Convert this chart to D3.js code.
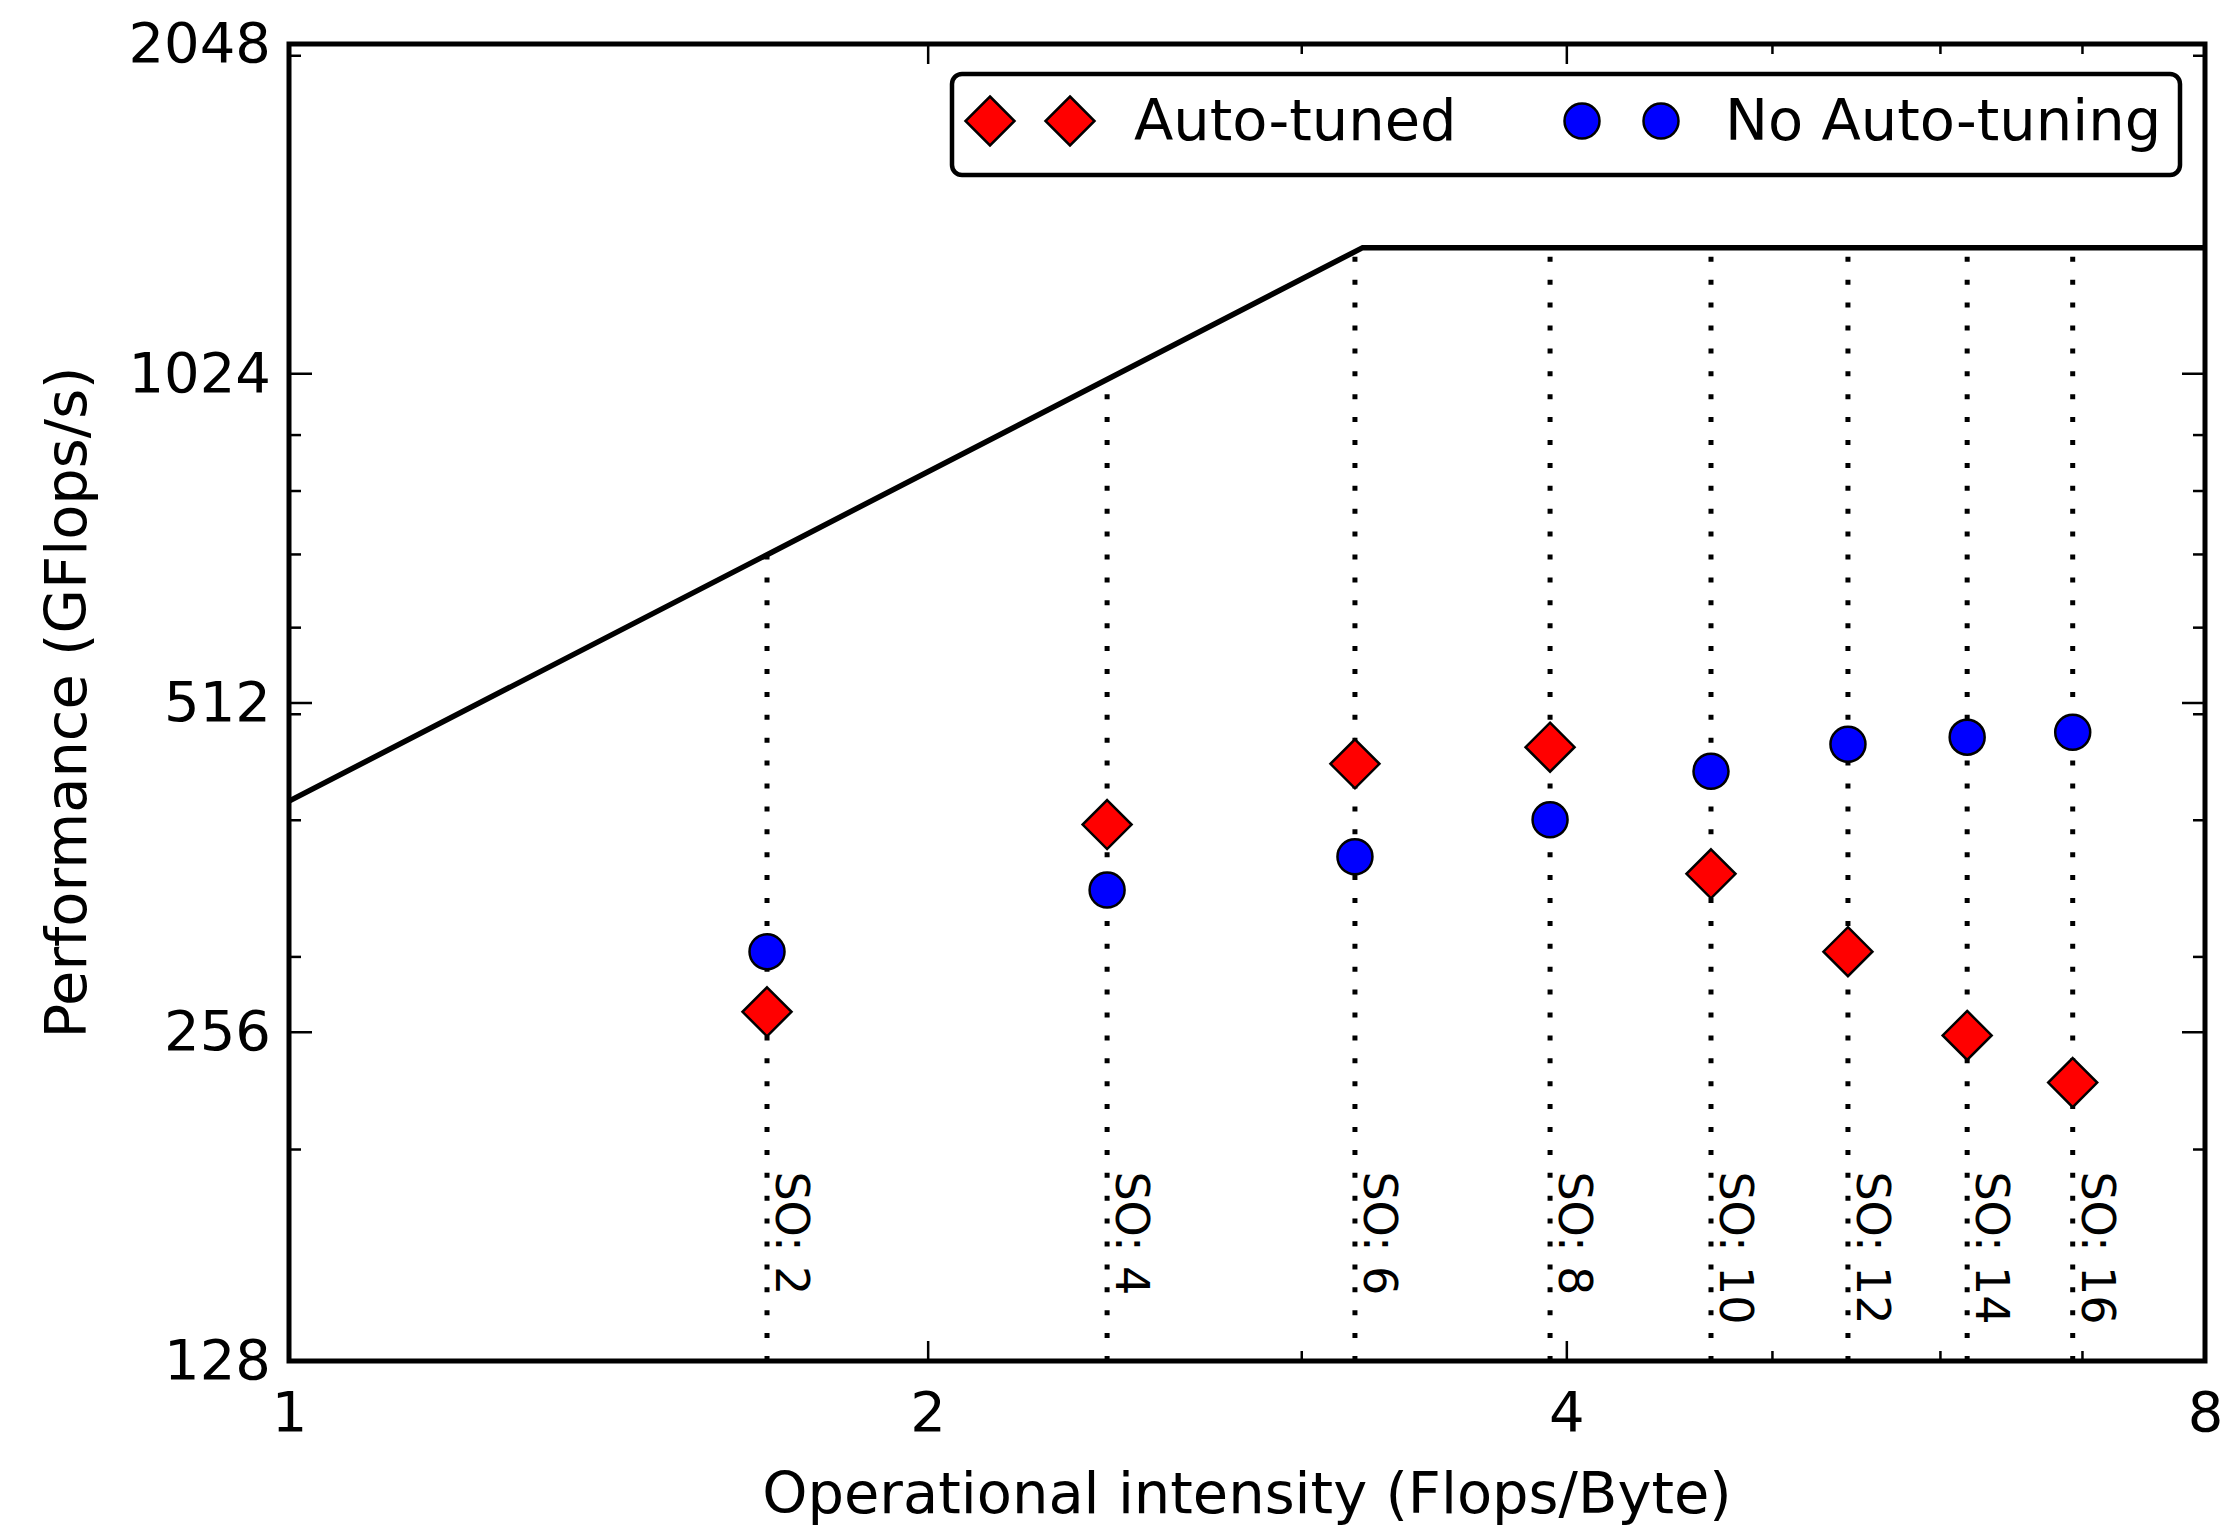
<!DOCTYPE html>
<html>
<head>
<meta charset="utf-8">
<script src="https://d3js.org/d3.v7.min.js"></script>
<style>
  body { margin: 0; background: #fff; }
  svg { display: block; font-family: "DejaVu Sans", sans-serif; }
</style>
</head>
<body>
<svg id="chart" width="2234" height="1528"></svg>
<script>
// ── Data ──
const spaceOrders = [2, 4, 6, 8, 10, 12, 14, 16];
const opIntensity = [1.68, 2.43, 3.18, 3.93, 4.68, 5.43, 6.18, 6.93];
const autoTuned = [267, 396, 450, 466, 357, 303, 254, 230];
const noAutoTuning = [303, 345, 370, 400, 443, 469, 476, 481];

const xTicks = [1, 2, 4, 8];
const xMinorTicks = [3, 5, 6, 7];
const yTicks = [128, 256, 512, 1024, 2048];
const yMinorTicks = [200, 300, 400, 500, 600, 700, 800, 900, 2000];

const roofBandwidth = 416;   // GB/s
const roofPeak = 1334;       // GFlops/s

// ── Layout ──
const W = 2234, H = 1528;
const M = { left: 289, right: 2205, top: 44, bottom: 1361 };
const FONT = 56, LABEL_FONT = 57.5;

const svg = d3.select('#chart');

const x = d3.scaleLog().base(2).domain([1, 8]).range([M.left, M.right]);
const y = d3.scaleLog().base(2).domain([128, 2048]).range([M.bottom, M.top]);

const roof = oi => Math.min(roofBandwidth * oi, roofPeak);

// dotted guide lines (bottom up to the roof)
svg.append('g').selectAll('line').data(opIntensity).enter().append('line')
  .attr('x1', d => x(d)).attr('x2', d => x(d))
  .attr('y1', y(128)).attr('y2', d => y(roof(d)))
  .attr('stroke', '#000').attr('stroke-width', 5)
  .attr('stroke-dasharray', '5,17.9');

// SO labels, rotated to read downwards
svg.append('g').selectAll('text').data(opIntensity).enter().append('text')
  .attr('transform', d => `translate(${x(d) + 9},${y(190) - 2}) rotate(90)`)
  .attr('font-size', 46).attr('fill', '#000')
  .text((d, i) => `SO: ${spaceOrders[i]}`);

// roofline
const ridge = roofPeak / roofBandwidth;
svg.append('path')
  .attr('d', d3.line().x(d => x(d)).y(d => y(roof(d)))([1, ridge, 8]))
  .attr('fill', 'none').attr('stroke', '#000').attr('stroke-width', 5.5);

// ── Axes (ticks inward on all four sides) ──
function styleAxis(g) {
  g.select('.domain').remove();
  g.selectAll('line').attr('stroke', '#000').attr('stroke-width', 2.5);
  g.selectAll('text').attr('font-size', FONT).attr('fill', '#000')
    .attr('font-family', '"DejaVu Sans", sans-serif');
}
const fmt = d3.format('d');

svg.append('g').attr('transform', `translate(0,${M.bottom})`)
  .call(d3.axisBottom(x).tickValues(xTicks).tickFormat(fmt).tickSizeInner(-20).tickSizeOuter(0).tickPadding(30))
  .call(styleAxis);
svg.append('g').attr('transform', `translate(0,${M.bottom})`)
  .call(d3.axisBottom(x).tickValues(xMinorTicks).tickFormat('').tickSizeInner(-10).tickSizeOuter(0))
  .call(styleAxis);
svg.append('g').attr('transform', `translate(0,${M.top})`)
  .call(d3.axisTop(x).tickValues(xTicks).tickFormat('').tickSizeInner(-20).tickSizeOuter(0))
  .call(styleAxis);
svg.append('g').attr('transform', `translate(0,${M.top})`)
  .call(d3.axisTop(x).tickValues(xMinorTicks).tickFormat('').tickSizeInner(-10).tickSizeOuter(0))
  .call(styleAxis);

svg.append('g').attr('transform', `translate(${M.left},0)`)
  .call(d3.axisLeft(y).tickValues(yTicks).tickFormat(fmt).tickSizeInner(-23).tickSizeOuter(0).tickPadding(18))
  .call(styleAxis);
svg.append('g').attr('transform', `translate(${M.left},0)`)
  .call(d3.axisLeft(y).tickValues(yMinorTicks).tickFormat('').tickSizeInner(-12).tickSizeOuter(0))
  .call(styleAxis);
svg.append('g').attr('transform', `translate(${M.right},0)`)
  .call(d3.axisRight(y).tickValues(yTicks).tickFormat('').tickSizeInner(-23).tickSizeOuter(0))
  .call(styleAxis);
svg.append('g').attr('transform', `translate(${M.right},0)`)
  .call(d3.axisRight(y).tickValues(yMinorTicks).tickFormat('').tickSizeInner(-12).tickSizeOuter(0))
  .call(styleAxis);

// frame
svg.append('rect')
  .attr('x', M.left).attr('y', M.top)
  .attr('width', M.right - M.left).attr('height', M.bottom - M.top)
  .attr('fill', 'none').attr('stroke', '#000').attr('stroke-width', 5);

// ── Markers ──
const diamond = (r) => `M0,${-r}L${r},0L0,${r}L${-r},0Z`;
const DR = 24.5, CR = 17.5;

svg.append('g').selectAll('path').data(opIntensity).enter().append('path')
  .attr('transform', (d, i) => `translate(${x(d)},${y(autoTuned[i])})`)
  .attr('d', diamond(DR))
  .attr('fill', '#ff0000').attr('stroke', '#000').attr('stroke-width', 2.5);

svg.append('g').selectAll('circle').data(opIntensity).enter().append('circle')
  .attr('cx', d => x(d)).attr('cy', (d, i) => y(noAutoTuning[i])).attr('r', CR)
  .attr('fill', '#0000ff').attr('stroke', '#000').attr('stroke-width', 2.5);

// ── Axis labels ──
svg.append('text')
  .attr('x', (M.left + M.right) / 2).attr('y', 1513)
  .attr('text-anchor', 'middle').attr('font-size', LABEL_FONT).attr('fill', '#000')
  .text('Operational intensity (Flops/Byte)');

svg.append('text')
  .attr('transform', `translate(86,${(M.top + M.bottom) / 2}) rotate(-90)`)
  .attr('text-anchor', 'middle').attr('font-size', LABEL_FONT).attr('fill', '#000')
  .text('Performance (GFlops/s)');

// ── Legend ──
const legend = svg.append('g');
legend.append('rect')
  .attr('x', 952).attr('y', 74).attr('width', 1228).attr('height', 101).attr('rx', 10)
  .attr('fill', '#fff').attr('stroke', '#000').attr('stroke-width', 4.5);

const ly = 121;
[990, 1070].forEach(cx => legend.append('path')
  .attr('transform', `translate(${cx},${ly})`).attr('d', diamond(DR))
  .attr('fill', '#ff0000').attr('stroke', '#000').attr('stroke-width', 2.5));
legend.append('text').attr('x', 1134).attr('y', ly + 19)
  .attr('font-size', LABEL_FONT).attr('fill', '#000').text('Auto-tuned');

[1582, 1661].forEach(cx => legend.append('circle')
  .attr('cx', cx).attr('cy', ly).attr('r', CR)
  .attr('fill', '#0000ff').attr('stroke', '#000').attr('stroke-width', 2.5));
legend.append('text').attr('x', 1725).attr('y', ly + 19)
  .attr('font-size', LABEL_FONT).attr('fill', '#000').text('No Auto-tuning');
</script>
</body>
</html>
